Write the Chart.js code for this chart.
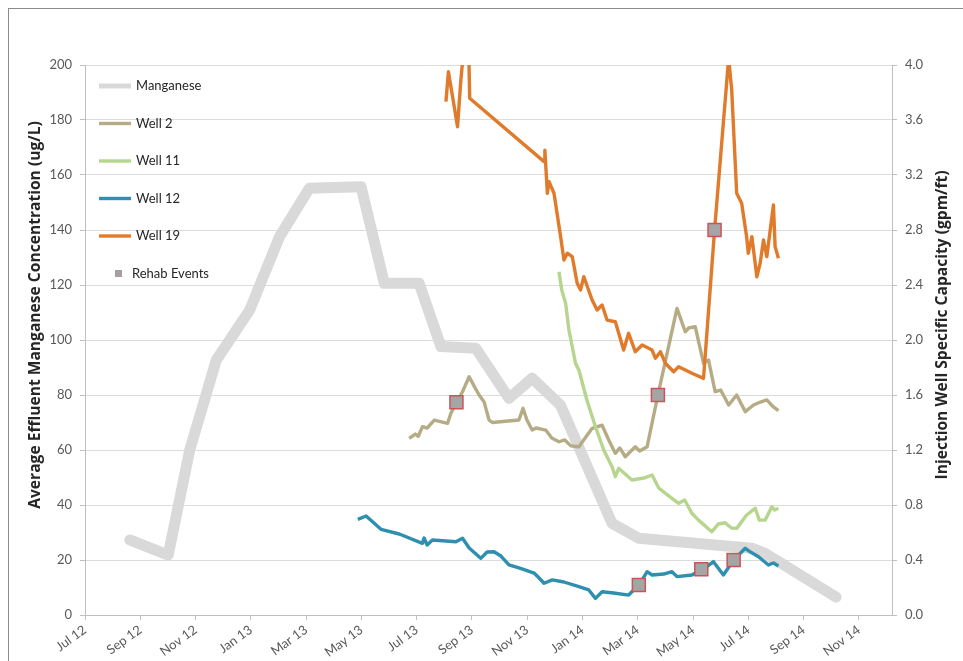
<!DOCTYPE html>
<html>
<head>
<meta charset="utf-8">
<script src="https://cdn.jsdelivr.net/npm/chart.js@4.4.1/dist/chart.umd.min.js"></script>
<style>
  html, body { margin: 0; padding: 0; background: #fff; overflow: hidden; }
  #wrap { position: relative; width: 963px; height: 661px; }
  #frame { position: absolute; left: 8px; top: 8px; width: 1000px; height: 1000px;
           border-left: 1px solid #8c8c8c; border-top: 1px solid #8c8c8c; pointer-events: none; }
  canvas { position: absolute; left: 0; top: 0; }
</style>
</head>
<body>
<div id="wrap">
  <canvas id="mnChart" width="963" height="661"></canvas>
  <div id="frame"></div>
</div>
<script>
// x values are months counted from Jul 2012
const tickMonths = [0, 2, 4, 6, 8, 10, 12, 14, 16, 18, 20, 22, 24, 26, 28];
const tickLabels = ['Jul 12', 'Sep 12', 'Nov 12', 'Jan 13', 'Mar 13', 'May 13', 'Jul 13', 'Sep 13',
                    'Nov 13', 'Jan 14', 'Mar 14', 'May 14', 'Jul 14', 'Sep 14', 'Nov 14'];

// manganese, ug/L (left axis)
const manganeseMonths = [1.62, 3.01, 3.79, 4.75, 5.96, 7.04, 8.12, 9.99, 10.83, 12.09, 12.88, 14.14,
                         15.34, 16.18, 17.2, 19.07, 20.04, 24.13, 24.61, 27.18];
const manganeseValues = [27.3, 21.8, 60, 92.7, 110.9, 137.6, 155.2, 155.7, 120.6, 120.6, 97.6, 97.0,
                         78.8, 86.1, 76.4, 33.3, 27.9, 24.3, 22.4, 6.5];

// specific capacity, gpm/ft (right axis)
const well2Months = [11.73, 11.95, 12.06, 12.21, 12.38, 12.64, 13.12, 13.24, 13.44, 13.65, 13.9, 14.12,
                     14.26, 14.44, 14.62, 14.74, 15.7, 15.85, 15.99, 16.18, 16.32, 16.67, 16.89, 17.15,
                     17.36, 17.58, 17.87, 18.35, 18.71, 18.95, 19.19, 19.35, 19.55, 19.91, 20.07, 20.34,
                     20.73, 21.01, 21.42, 21.72, 21.84, 22.08, 22.38, 22.56, 22.8, 23.0, 23.29, 23.58,
                     23.89, 24.19, 24.44, 24.67, 24.91, 25.09];
const well2Values = [1.285, 1.316, 1.30, 1.37, 1.36, 1.418, 1.394, 1.467, 1.547, 1.62, 1.733, 1.65,
                     1.6, 1.55, 1.418, 1.40, 1.418, 1.503, 1.418, 1.345, 1.36, 1.345, 1.287, 1.26,
                     1.273, 1.23, 1.224, 1.358, 1.38, 1.273, 1.176, 1.215, 1.151, 1.224, 1.193, 1.224,
                     1.6, 1.855, 2.23, 2.06, 2.087, 2.097, 1.83, 1.855, 1.624, 1.636, 1.527, 1.6,
                     1.479, 1.527, 1.549, 1.564, 1.513, 1.486];

const well11Months = [17.15, 17.25, 17.39, 17.51, 17.75, 17.87, 18.16, 18.47, 18.77, 19.07, 19.19, 19.31,
                      19.79, 20.22, 20.52, 20.76, 21.0, 21.48, 21.7, 21.96, 22.2, 22.68, 22.92, 23.16,
                      23.39, 23.58, 23.94, 24.25, 24.4, 24.61, 24.85, 24.95, 25.09];
const well11Values = [2.497, 2.364, 2.267, 2.073, 1.83, 1.782, 1.564, 1.369, 1.2, 1.079, 1.006, 1.067,
                      0.982, 0.996, 1.018, 0.924, 0.885, 0.812, 0.836, 0.74, 0.69, 0.606, 0.662, 0.671,
                      0.633, 0.63, 0.727, 0.776, 0.69, 0.69, 0.788, 0.764, 0.776];

const well12Months = [9.87, 10.17, 10.71, 11.37, 12.21, 12.27, 12.38, 12.57, 13.42, 13.66, 13.9, 14.32,
                      14.55, 14.8, 15.05, 15.34, 15.7, 15.94, 16.25, 16.43, 16.61, 16.91, 17.33, 17.87,
                      18.23, 18.47, 18.71, 19.13, 19.67, 20.04, 20.34, 20.52, 20.94, 21.24, 21.42, 21.96,
                      22.3, 22.53, 22.74, 23.1, 23.47, 23.65, 23.89, 24.08, 24.37, 24.73, 24.91, 25.09];
const well12Values = [0.696, 0.72, 0.623, 0.589, 0.521, 0.56, 0.509, 0.545, 0.533, 0.558, 0.487, 0.412,
                      0.458, 0.46, 0.429, 0.364, 0.342, 0.327, 0.305, 0.269, 0.231, 0.255, 0.24, 0.206,
                      0.182, 0.121, 0.169, 0.16, 0.145, 0.218, 0.315, 0.291, 0.298, 0.315, 0.279, 0.291,
                      0.332, 0.356, 0.388, 0.291, 0.4, 0.436, 0.485, 0.458, 0.424, 0.364, 0.378, 0.356];

const well19Months = [13.06, 13.15, 13.29, 13.48, 13.6, 13.72, 13.88, 13.92, 16.61, 16.64, 16.73, 16.79,
                      16.97, 17.21, 17.33, 17.45, 17.63, 17.81, 17.93, 18.05, 18.35, 18.53, 18.71, 18.89,
                      19.19, 19.49, 19.67, 19.91, 20.16, 20.52, 20.64, 20.82, 21.0, 21.3, 21.48, 21.96,
                      22.38, 22.78, 23.29, 23.4, 23.58, 23.76, 23.94, 24.0, 24.13, 24.31, 24.43, 24.55,
                      24.67, 24.91, 24.97, 25.09];
const well19Values = [3.733, 3.951, 3.782, 3.551, 3.891, 4.15, 4.15, 3.758, 3.297, 3.38, 3.067, 3.151,
                      3.067, 2.751, 2.582, 2.631, 2.606, 2.412, 2.364, 2.46, 2.291, 2.218, 2.255, 2.145,
                      2.133, 1.927, 2.049, 1.915, 1.964, 1.927, 1.867, 1.915, 1.831, 1.769, 1.806, 1.758,
                      1.721, 2.8, 4.05, 3.818, 3.067, 2.994, 2.751, 2.631, 2.751, 2.46, 2.558, 2.727,
                      2.606, 2.982, 2.679, 2.594];

const rehabMonths = [13.44, 20.04, 20.73, 22.3, 22.78, 23.47];
const rehabValues = [1.547, 0.218, 1.6, 0.332, 2.8, 0.4];

const leftTitle = 'Average Effluent Manganese Concentration (ug/L)';
const rightTitle = 'Injection Well Specific Capacity (gpm/ft)';

const FONT = 'Lato, "Open Sans", sans-serif';

function toPoints(xs, ys) {
    return xs.map((x, i) => ({ x: x, y: ys[i] }));
}

function wellLine(label, xs, ys, color, order) {
    return {
        label: label,
        data: toPoints(xs, ys),
        yAxisID: 'y1',
        borderColor: color,
        backgroundColor: color,
        borderWidth: 3.4,
        pointRadius: 0,
        borderJoinStyle: 'round',
        order: order
    };
}

// legend inside the plot, stacked down the left side
const insideLegend = {
    id: 'insideLegend',
    afterDatasetsDraw(chart) {
        const { ctx, chartArea } = chart;
        const x0 = chartArea.left + 14;
        let y = chartArea.top + 21;
        ctx.save();
        ctx.font = '13px ' + FONT;
        ctx.textBaseline = 'middle';
        ctx.fillStyle = '#262626';
        chart.data.datasets.forEach((ds) => {
            if (ds.showLine === false) {
                ctx.fillStyle = '#a59fa2';
                ctx.fillRect(x0 + 16, y - 3.5, 7, 7);
                ctx.fillStyle = '#262626';
                ctx.fillText(ds.label, x0 + 33, y);
            } else {
                ctx.strokeStyle = ds.borderColor;
                ctx.lineWidth = Math.min(ds.borderWidth, 5);
                ctx.beginPath();
                ctx.moveTo(x0, y);
                ctx.lineTo(x0 + 32, y);
                ctx.stroke();
                ctx.fillText(ds.label, x0 + 37, y);
            }
            y += 37.5;
        });
        ctx.restore();
    }
};

// both axis titles read bottom-to-top
const axisTitles = {
    id: 'axisTitles',
    afterDraw(chart) {
        const { ctx, chartArea } = chart;
        ctx.save();
        ctx.font = 'bold 15.6px "Open Sans", Lato, sans-serif';
        ctx.fillStyle = '#262626';
        ctx.textAlign = 'center';
        ctx.textBaseline = 'middle';
        [[chartArea.left - 49, chartArea.top + 250, leftTitle],
         [chartArea.right + 51, chartArea.top + 260, rightTitle]].forEach(([x, y, t]) => {
            ctx.save();
            ctx.translate(x, y);
            ctx.rotate(-Math.PI / 2);
            ctx.fillText(t, 0, 0);
            ctx.restore();
        });
        ctx.restore();
    }
};

const ctx = document.getElementById('mnChart').getContext('2d');
const mnChart = new Chart(ctx, {
    type: 'line',
    data: {
        datasets: [
            {
                label: 'Manganese',
                data: toPoints(manganeseMonths, manganeseValues),
                yAxisID: 'y',
                borderColor: '#d9d9d9',
                backgroundColor: '#d9d9d9',
                borderWidth: 11,
                pointRadius: 0,
                borderJoinStyle: 'round',
                borderCapStyle: 'round',
                order: 10
            },
            wellLine('Well 2', well2Months, well2Values, '#b5ac86', 4),
            wellLine('Well 11', well11Months, well11Values, '#b6d58e', 3),
            wellLine('Well 12', well12Months, well12Values, '#2f8fae', 2),
            wellLine('Well 19', well19Months, well19Values, '#e07b2c', 1),
            {
                label: 'Rehab Events',
                data: toPoints(rehabMonths, rehabValues),
                yAxisID: 'y1',
                showLine: false,
                pointStyle: 'rect',
                pointRadius: 9.2,
                pointBackgroundColor: '#a5a5a5',
                pointBorderColor: '#c9555a',
                pointBorderWidth: 1.5,
                order: 0
            }
        ]
    },
    options: {
        responsive: false,
        animation: false,
        layout: { padding: { top: 65, left: 0, right: 0, bottom: 0 } },
        plugins: {
            legend: { display: false },
            tooltip: { enabled: false }
        },
        scales: {
            x: {
                type: 'linear',
                min: 0,
                max: 29.2,
                afterBuildTicks: (scale) => { scale.ticks = tickMonths.map(v => ({ value: v })); },
                afterFit: (scale) => { scale.height = 46; },
                ticks: {
                    autoSkip: false,
                    minRotation: 36,
                    maxRotation: 36,
                    padding: 2,
                    color: '#595959',
                    font: { family: FONT, size: 13 },
                    callback: (v) => tickLabels[tickMonths.indexOf(v)]
                },
                grid: { drawOnChartArea: false, tickLength: 5, color: '#bfbfbf' },
                border: { color: '#bfbfbf' }
            },
            y: {
                position: 'left',
                min: 0,
                max: 200,
                afterFit: (scale) => { scale.width = 85; },
                ticks: {
                    stepSize: 20,
                    padding: 8,
                    color: '#595959',
                    font: { family: FONT, size: 13 }
                },
                grid: { color: '#dcdcdc', tickLength: 5, tickColor: '#bfbfbf' },
                border: { color: '#bfbfbf' }
            },
            y1: {
                position: 'right',
                min: 0,
                max: 4,
                afterFit: (scale) => { scale.width = 71; },
                ticks: {
                    stepSize: 0.4,
                    padding: 8,
                    color: '#595959',
                    font: { family: FONT, size: 13 },
                    callback: (v) => v.toFixed(1)
                },
                grid: { drawOnChartArea: false, tickLength: 5, color: '#bfbfbf' },
                border: { color: '#bfbfbf' }
            }
        }
    },
    plugins: [insideLegend, axisTitles]
});
</script>
</body>
</html>
